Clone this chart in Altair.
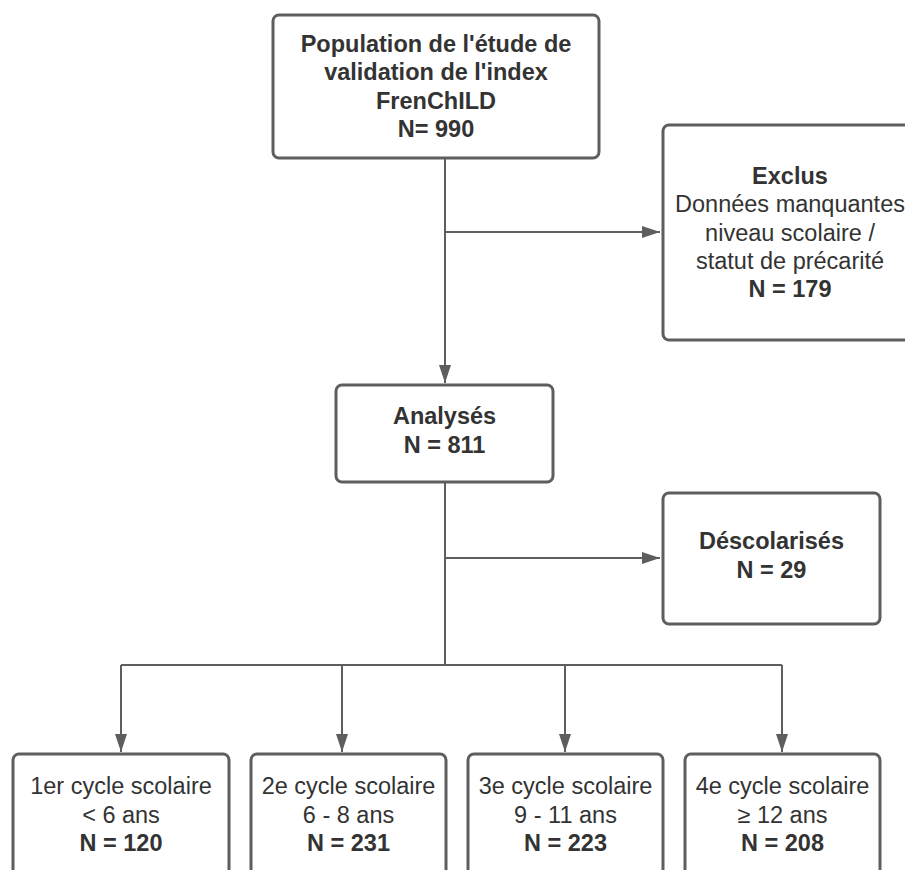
import altair as alt
import pandas as pd

# ---------------- content (text and counts) ----------------
node_ids = ["population", "exclus", "analyses", "descolarises",
            "cycle1", "cycle2", "cycle3", "cycle4"]
node_bold_lines = [
    ["Population de l'étude de", "validation de l'index", "FrenChILD"],
    ["Exclus"],
    ["Analysés"],
    ["Déscolarisés"],
    [], [], [], [],
]
node_plain_lines = [
    [],
    ["Données manquantes", "niveau scolaire /", "statut de précarité"],
    [],
    [],
    ["1er cycle scolaire", "< 6 ans"],
    ["2e cycle scolaire", "6 - 8 ans"],
    ["3e cycle scolaire", "9 - 11 ans"],
    ["4e cycle scolaire", "≥ 12 ans"],
]
count_prefix = ["N= ", "N = ", "N = ", "N = ", "N = ", "N = ", "N = ", "N = "]
node_counts = [990, 179, 811, 29, 120, 231, 223, 208]

# ---------------- layout (pixel positions of the diagram) ----------------
box_layout = {  # x0, x1, y0, y1, text centre x, text centre y
    "population":   (273, 599, 15, 158, 436, 87.5),
    "exclus":       (663, 921, 125, 340, 790, 233.5),
    "analyses":     (336, 553, 385, 482, 444.5, 431.5),
    "descolarises": (663, 880, 493, 624, 771.5, 556.5),
    "cycle1":       (13, 229, 754, 900, 121, 815.5),
    "cycle2":       (251, 446, 754, 900, 348.5, 815.5),
    "cycle3":       (468, 663, 754, 900, 565.5, 815.5),
    "cycle4":       (685, 880, 754, 900, 782.5, 815.5),
}
TRUNK_X = 445
SPLIT_Y = 665
branch_x = [121, 342, 565, 782]
connector_rules = [  # x, y, x2, y2
    (TRUNK_X, 158, TRUNK_X, 383),
    (TRUNK_X, 232, 660, 232),
    (TRUNK_X, 482, TRUNK_X, SPLIT_Y),
    (TRUNK_X, 558, 660, 558),
    (branch_x[0], SPLIT_Y, branch_x[-1], SPLIT_Y),
] + [(bx, SPLIT_Y, bx, 752) for bx in branch_x]
arrows_right = [(660, 232), (660, 558)]
arrows_down = [(TRUNK_X, 383)] + [(bx, 752) for bx in branch_x]

LINE_H = 28.4
W, H = 897, 862
X0, Y0 = 8, 8
STROKE = "#5e5e5e"
TEXT = "#333333"
FONT = "Liberation Sans"
FS = 23.5

# ---------------- tables ----------------
boxes = pd.DataFrame([
    {"id": k, "x0": v[0], "x1": v[1], "y0": v[2], "y1": v[3]}
    for k, v in box_layout.items()
])

text_rows = []
for i, nid in enumerate(node_ids):
    x0, x1, y0, y1, cx, cy = box_layout[nid]
    lines = [(t, "bold") for t in node_bold_lines[i]] + \
            [(t, "normal") for t in node_plain_lines[i]] + \
            [(f"{count_prefix[i]}{node_counts[i]}", "bold")]
    n = len(lines)
    for j, (t, w) in enumerate(lines):
        text_rows.append({"x": cx, "y": cy + (j - (n - 1) / 2) * LINE_H,
                          "text": t, "weight": w})
texts = pd.DataFrame(text_rows)

rules = pd.DataFrame(connector_rules, columns=["x", "y", "x2", "y2"])
ar_r = pd.DataFrame(arrows_right, columns=["x", "y"])
ar_d = pd.DataFrame(arrows_down, columns=["x", "y"])

xs = alt.Scale(domain=[X0, X0 + W], nice=False, zero=False)
ys = alt.Scale(domain=[Y0, Y0 + H], nice=False, zero=False, reverse=True)

rect_layer = alt.Chart(boxes).mark_rect(
    fill="white", stroke=STROKE, strokeWidth=3, cornerRadius=6, clip=True
).encode(
    x=alt.X("x0:Q", scale=xs, axis=None), x2="x1:Q",
    y=alt.Y("y0:Q", scale=ys, axis=None), y2="y1:Q",
)

rule_layer = alt.Chart(rules).mark_rule(color=STROKE, strokeWidth=2).encode(
    x=alt.X("x:Q", scale=xs, axis=None), x2="x2:Q",
    y=alt.Y("y:Q", scale=ys, axis=None), y2="y2:Q",
)

right_layer = alt.Chart(ar_r).mark_point(
    shape="M0,0L-3,-1L-3,1Z", size=144, filled=True, color=STROKE, opacity=1
).encode(
    x=alt.X("x:Q", scale=xs, axis=None), y=alt.Y("y:Q", scale=ys, axis=None)
)

down_layer = alt.Chart(ar_d).mark_point(
    shape="M0,0L-1,-3L1,-3Z", size=144, filled=True, color=STROKE, opacity=1
).encode(
    x=alt.X("x:Q", scale=xs, axis=None), y=alt.Y("y:Q", scale=ys, axis=None)
)

def text_layer(weight):
    return alt.Chart(texts).transform_filter(
        alt.datum.weight == weight
    ).mark_text(
        font=FONT, fontSize=FS, fontWeight=weight, color=TEXT,
        align="center", baseline="middle"
    ).encode(
        x=alt.X("x:Q", scale=xs, axis=None),
        y=alt.Y("y:Q", scale=ys, axis=None),
        text="text:N",
    )

chart = alt.layer(
    rule_layer, right_layer, down_layer, rect_layer,
    text_layer("bold"), text_layer("normal"),
).properties(
    width=W, height=H,
    padding={"left": 0, "top": 0, "right": 0, "bottom": 0},
    autosize=alt.AutoSizeParams(type="none"),
    background="white",
).configure_view(stroke=None)

chart.save("out.html", embed_options={"renderer": "svg", "actions": False})
